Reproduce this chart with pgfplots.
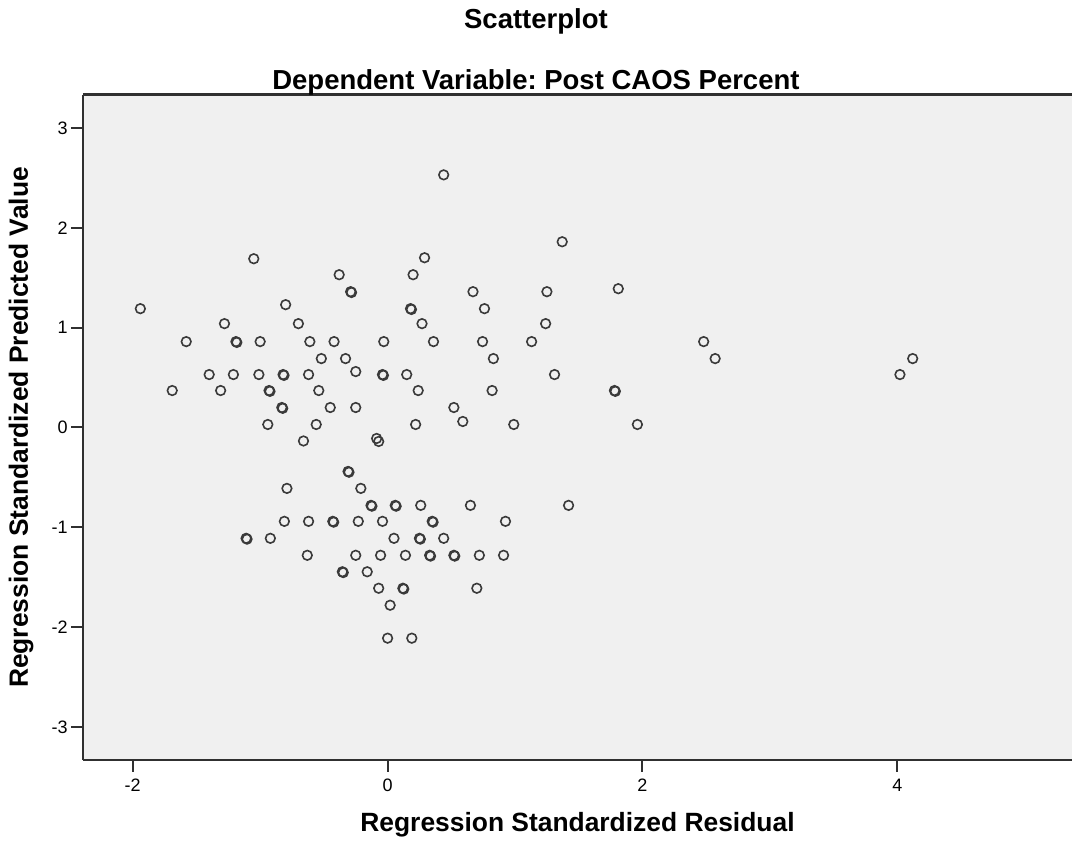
\documentclass[border=0pt]{standalone}
\usepackage{fontspec}
\setmainfont{Liberation Sans}
\usepackage{pgfplots}
\pgfplotsset{compat=1.18}
\usepackage{pgfplotstable}
\frenchspacing

\definecolor{plotbg}{HTML}{F0F0F0}
\definecolor{markgray}{HTML}{3A3A3A}
\definecolor{framegray}{HTML}{303030}

% standardized residual vs. standardized predicted value
\pgfplotstableread{
x y
-1.94 1.19
-1.05 1.69
-1.28 1.04
-0.80 1.23
-0.70 1.04
-0.38 1.53
-0.29 1.36
-0.283 1.352
0.20 1.53
0.18 1.19
0.187 1.182
0.29 1.70
0.27 1.04
0.44 2.53
1.37 1.86
0.67 1.36
1.25 1.36
1.81 1.39
0.76 1.19
1.24 1.04
-1.58 0.86
-1.19 0.86
-1.183 0.852
-1.00 0.86
-0.61 0.86
-0.42 0.86
-0.03 0.86
0.36 0.86
0.745 0.86
1.13 0.86
2.48 0.86
-0.52 0.69
-0.33 0.69
0.83 0.69
2.57 0.69
4.12 0.69
-1.40 0.53
-1.21 0.53
-1.01 0.53
-0.82 0.53
-0.813 0.522
-0.62 0.53
-0.25 0.56
-0.04 0.53
-0.033 0.522
0.15 0.53
1.31 0.53
4.02 0.53
-1.69 0.37
-1.31 0.37
-0.93 0.37
-0.923 0.362
-0.54 0.37
0.24 0.37
0.82 0.37
1.78 0.37
1.787 0.362
-0.83 0.20
-0.823 0.192
-0.45 0.20
-0.25 0.20
0.52 0.20
-0.94 0.03
-0.56 0.03
0.22 0.03
0.59 0.06
0.99 0.03
1.96 0.03
-0.66 -0.135
-0.086 -0.11
-0.07 -0.14
-0.31 -0.44
-0.303 -0.448
-0.79 -0.61
-0.21 -0.61
-0.13 -0.78
-0.123 -0.788
0.06 -0.78
0.067 -0.788
0.26 -0.78
0.65 -0.78
1.42 -0.78
-0.81 -0.94
-0.62 -0.94
-0.43 -0.94
-0.423 -0.948
-0.23 -0.94
-0.04 -0.94
0.35 -0.94
0.357 -0.948
0.925 -0.94
-1.11 -1.11
-1.103 -1.118
-0.92 -1.11
0.05 -1.11
0.25 -1.11
0.257 -1.118
0.44 -1.11
-0.63 -1.28
-0.25 -1.28
-0.055 -1.28
0.14 -1.28
0.33 -1.28
0.337 -1.288
0.52 -1.28
0.527 -1.288
0.72 -1.28
0.91 -1.28
-0.355 -1.445
-0.348 -1.453
-0.16 -1.445
-0.07 -1.61
0.12 -1.61
0.127 -1.618
0.70 -1.61
0.02 -1.78
0.00 -2.11
0.19 -2.11
}\residuals

\begin{document}
\begin{tikzpicture}
\useasboundingbox (-41.5pt,-42.5pt) rectangle (494.5pt,380pt);
\begin{axis}[
  scale only axis,
  width=494.5pt, height=332.5pt,
  xmin=-2.39, xmax=5.37,
  ymin=-3.33, ymax=3.33,
  axis background/.style={fill=plotbg},
  axis x line*=bottom,
  axis y line*=left,
  axis line style={framegray, line width=1pt},
  xtick={-2,0,2,4},
  xticklabels={-2,0,2,4},
  ytick={-3,-2,-1,0,1,2,3},
  yticklabels={-3,-2,-1,0,1,2,3},
  tick align=outside,
  major tick length=6pt,
  tick style={framegray, line width=1pt},
  ticklabel style={font=\fontsize{9}{10}\selectfont, text=black},
  yticklabel style={inner sep=1.5pt},
  xlabel={\bfseries Regression Standardized Residual},
  xlabel style={font=\fontsize{13.2}{15}\selectfont, at={(axis description cs:0.5,0)}, anchor=base, yshift=-36pt},
  clip=false,
]
\addplot[only marks, mark=o, mark size=2.4pt,
         mark options={draw=markgray, line width=0.8pt}]
  table[x=x, y=y] {\residuals};
\draw[framegray, line width=1.5pt] (rel axis cs:0,1) -- (rel axis cs:1,1);
\node[font=\fontsize{13.2}{15}\selectfont\bfseries, rotate=90, anchor=center]
  at ([xshift=-31pt]rel axis cs:0,0.5) {Regression Standardized Predicted Value};
\node[font=\fontsize{13.75}{16}\selectfont\bfseries, anchor=base]
  at ([yshift=33pt]rel axis cs:0.458,1) {Scatterplot};
\node[font=\fontsize{13.75}{16}\selectfont\bfseries, anchor=base]
  at ([yshift=2.85pt]rel axis cs:0.458,1) {Dependent Variable: Post CAOS Percent};
\end{axis}
\end{tikzpicture}
\end{document}
